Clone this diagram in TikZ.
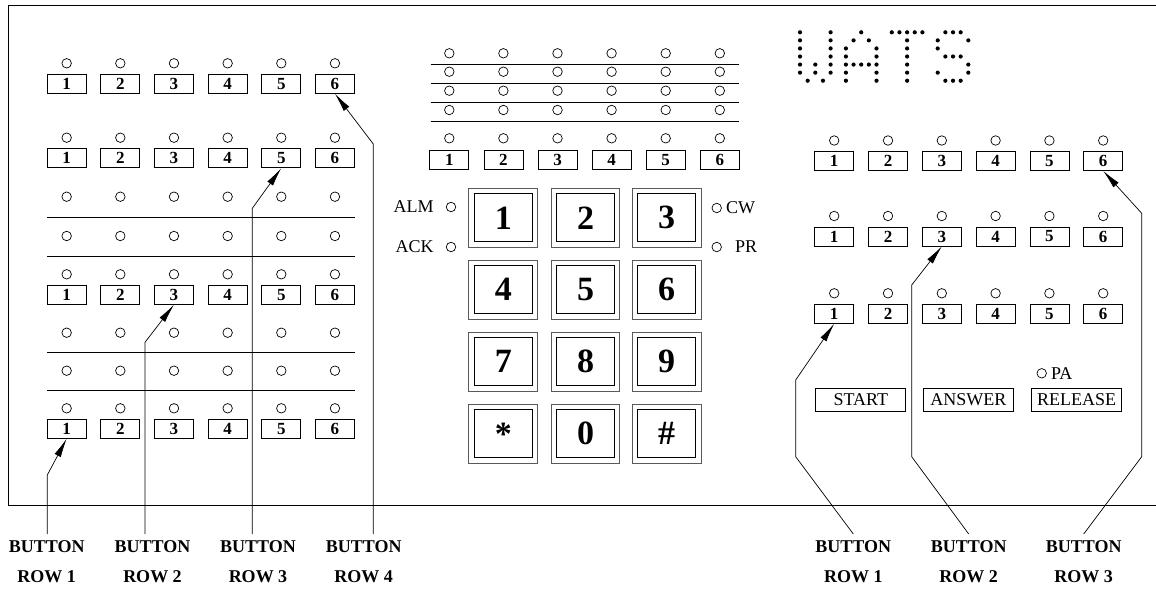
\documentclass[tikz,border=0pt]{standalone}
\usepackage{fontspec}
\setmainfont{Liberation Serif}
\usetikzlibrary{positioning,arrows.meta}
\begin{document}
\begin{tikzpicture}[x=1pt,y=-1pt,node distance=10pt]
    \tikzstyle{button} = [rectangle,minimum width=39pt,minimum height=19pt,inner sep=0pt,draw=black,line width=0.8pt,font=\fontsize{17}{17}\selectfont\bfseries]
    \tikzstyle{led} = [circle,minimum size=9.5pt,inner sep=0pt,draw=black,line width=0.7pt]
    \tikzstyle{keycap} = [rectangle,minimum width=58pt,minimum height=48pt,inner sep=0pt,draw=black,line width=0.8pt,font=\fontsize{34}{34}\selectfont\bfseries]
    \tikzstyle{keyrim} = [draw=black!65,line width=1pt]
    \tikzstyle{softkey} = [rectangle,minimum width=90pt,minimum height=23pt,inner sep=0pt,draw=black,line width=0.8pt,font=\fontsize{18}{18}\selectfont]
    \tikzstyle{tag} = [inner sep=0pt,font=\fontsize{18}{18}\selectfont]
    \tikzstyle{rowname} = [align=center,anchor=north,inner sep=6pt,font=\fontsize{18}{30}\selectfont\bfseries]
    \tikzstyle{pointer} = [-{Latex[length=19pt,width=7pt]},line width=0.7pt]
    \tikzstyle{rule} = [line width=0.8pt]
    \useasboundingbox (0,0) rectangle (1156,591);
    \draw [line width=1pt] (1156,6) -- (8.5,6) -- (8.5,505) -- (1156,505);
    \foreach \r/\y in {4/63.3,3/137.7,2/274.3,1/408.3}
        \foreach \i in {1,...,6} {
            \node (lled\r\i)[led] at (13+53.66*\i,\y) {};
            \node (lbtn\r\i)[button] at (13+53.66*\i,\y+20.5) {\i};
        }
    \foreach \y [count=\n] in {196.7,236,332.7,370.7}
        \foreach \i in {1,...,6}
            \node (lgrid\n\i)[led] at (13+53.66*\i,\y) {};
    \foreach \y in {217.3,256,352.3,390.7}
        \draw [rule] (47.3,\y) -- (355,\y);
    \foreach \y/\l [count=\n] in {53.3/64,71.7/83.3,90.7/102.7,110/121.7} {
        \foreach \i in {1,...,6}
            \node (mled\n\i)[led] at (395.2+54.1*\i,\y) {};
        \draw [rule] (430.7,\l) -- (739,\l);
    }
    \foreach \i in {1,...,6} {
        \node (mled5\i)[led] at (395.2+54.1*\i,138.3) {};
        \node (mbtn\i)[button] at (395.2+54.1*\i,160) {\i};
    }
    \foreach \a/\b/\c [count=\r from 0] in {1/2/3,4/5/6,7/8/9,{*}/0/{\#}} {
        \node (pad\r1)[keycap] at (503.3,217.8+72*\r) {\a};
        \node (pad\r2)[keycap] at (585.5,217.8+72*\r) {\b};
        \node (pad\r3)[keycap] at (666.7,217.8+72*\r) {\c};
        \foreach \k in {1,2,3}
            \draw [keyrim] ([shift={(-5pt,-5pt)}]pad\r\k.south west) rectangle ([shift={(5pt,5pt)}]pad\r\k.north east);
    }
    \node (almled)[led] at (451,207) {};
    \node (alm)[tag,left=12pt of almled] {ALM};
    \node (ackled)[led] at (451,247) {};
    \node (ack)[tag,left=12pt of ackled] {ACK};
    \node (cwled)[led] at (716.7,208) {};
    \node (cw)[tag,right=4pt of cwled] {CW};
    \node (prled)[led] at (716.7,247) {};
    \node (pr)[tag,right=13pt of prled] {PR};
    \foreach \c/\r in {0/0,0/1,0/2,0/3,0/4,0/5,4/0,4/1,4/2,4/3,4/4,4/5,2/4,2/5,1/6,3/6,
        8/0,7/1,9/1,6/2,6/3,6/4,6/5,6/6,10/2,10/3,10/4,10/5,10/6,7/4,8/4,9/4,
        12/0,13/0,14/0,15/0,16/0,14/1,14/2,14/3,14/4,14/5,14/6,
        19/0,20/0,21/0,18/1,22/1,18/2,19/3,20/3,21/3,22/4,18/5,22/5,19/6,20/6,21/6}
        \fill (800+7.65*\c,32.3+8.07*\r) circle (2.1pt);
    \foreach \r/\y in {3/140.5,2/216,1/293.3}
        \foreach \i in {1,...,6} {
            \node (rled\r\i)[led] at (780.4+53.8*\i,\y) {};
            \node (rbtn\r\i)[button] at (780.4+53.8*\i,\y+20.5) {\i};
        }
    \node (paled)[led] at (1041.7,373.3) {};
    \node (pa)[tag,right=4pt of paled] {PA};
    \node (start)[softkey] at (860.8,400) {START};
    \node (answer)[softkey] at (968.3,400) {ANSWER};
    \node (release)[softkey] at (1076.7,400) {RELEASE};
    \node (lrow1)[rowname] at (46.7,534) {BUTTON\\ROW 1};
    \node (lrow2)[rowname] at (152.5,534) {BUTTON\\ROW 2};
    \node (lrow3)[rowname] at (258,534) {BUTTON\\ROW 3};
    \node (lrow4)[rowname] at (363.7,534) {BUTTON\\ROW 4};
    \node (rrow1)[rowname] at (853.3,534) {BUTTON\\ROW 1};
    \node (rrow2)[rowname] at (968.7,534) {BUTTON\\ROW 2};
    \node (rrow3)[rowname] at (1083.7,534) {BUTTON\\ROW 3};
    \coordinate (lbend1) at (47.3,475);
    \coordinate (lbend2) at (145,342.3);
    \coordinate (lbend3) at (252.3,208.3);
    \coordinate (lbend4) at (373.3,144);
    \draw [pointer] (lrow1.north -| lbend1) -- (lbend1) -- (lbtn11.south);
    \draw [pointer] (lrow2.north -| lbend2) -- (lbend2) -- (lbtn23.south);
    \draw [pointer] (lrow3.north -| lbend3) -- (lbend3) -- (lbtn35.south);
    \draw [pointer] (lrow4.north -| lbend4) -- (lbend4) -- (lbtn46.south);
    \coordinate (rfoot1) at (795.7,456.7);
    \coordinate (rknee1) at (795.7,380);
    \coordinate (rfoot2) at (911.7,456.7);
    \coordinate (rknee2) at (911.7,285);
    \coordinate (rfoot3) at (1141.7,456.7);
    \coordinate (rknee3) at (1141.7,213.3);
    \draw [pointer] (rrow1.north) -- (rfoot1) -- (rknee1) -- (rbtn11.south);
    \draw [pointer] (rrow2.north) -- (rfoot2) -- (rknee2) -- (rbtn23.south);
    \draw [pointer] (rrow3.north) -- (rfoot3) -- (rknee3) -- (rbtn36.south);
\end{tikzpicture}
\end{document}
